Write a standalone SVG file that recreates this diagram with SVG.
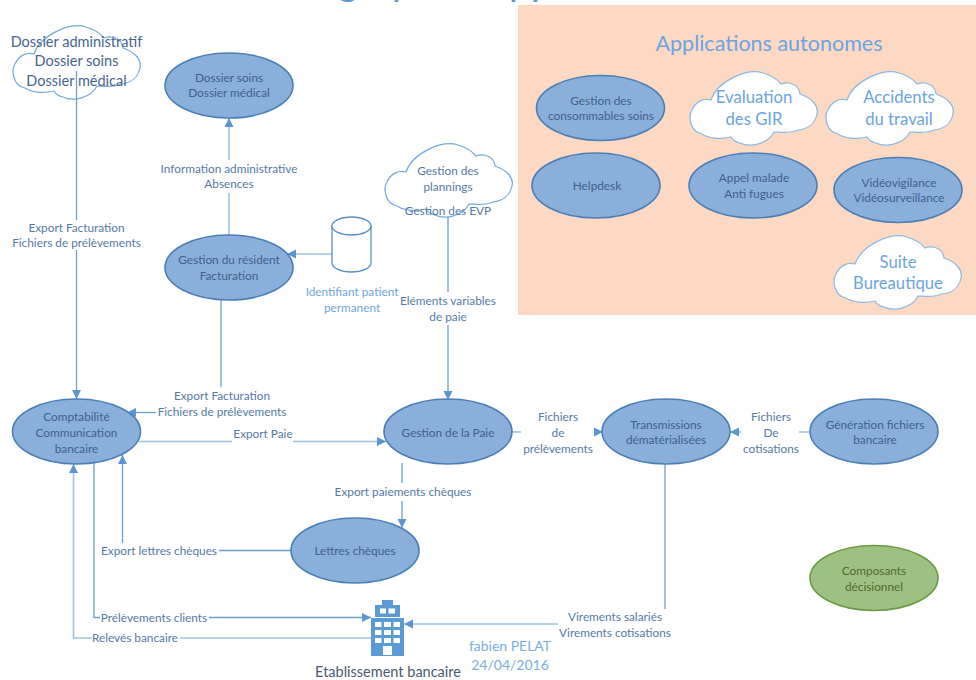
<svg xmlns="http://www.w3.org/2000/svg" width="976" height="680" viewBox="0 0 976 680">
<style>
text{font-family:"Lato","Open Sans","Liberation Sans",sans-serif;text-anchor:middle}
.n{fill:#8bafdb;stroke:#4a7fb5;stroke-width:1.6}
.g{fill:#9dc183;stroke:#6a9a43;stroke-width:1.6}
.t{font-size:11.8px;fill:#40608c}
.l{font-size:11.8px;fill:#557aa6}
.d{font-size:11.8px;fill:#4f6b2c}
.b{font-size:16.700px;fill:#6ba4e0}
.m{font-size:14.500px;fill:#47648f}
.a{font-size:14px;fill:#7aaee2}
.i{font-size:11.800px;fill:#6ea6de}
.cl{fill:#fff;stroke:#8db8e2;stroke-width:1.2}
.cb{fill:#fff;stroke:#76a9dc;stroke-width:1.2}
.cn{fill:none;stroke:#6a9fd3;stroke-width:1.3}
.lt{fill:none;stroke:#9dc3e6;stroke-width:1.6}
</style>
<defs>
<marker id="a" markerUnits="userSpaceOnUse" markerWidth="10" markerHeight="10" refX="9" refY="4.5" orient="auto"><path d="M0,0L9,4.5L0,9Z" fill="#5b96d2"/></marker>
<path id="cloud" d="M21,28C28,8 58,-4 73,1C80,3 86,6 91,12C100,9 109,13 110,22C122,26 129,34 127,42C125,52 117,57 108,58C100,62 90,60 84,60C78,72 60,76 50,71C45,70 42,67 41,65C30,68 18,66 12,62C0,60 -2,44 2,38C6,29 14,26 21,28Z"/>
</defs>
<rect width="976" height="680" fill="#fff"/>
<rect id="panel" x="518" y="5" width="458" height="310" fill="#fdd9c4"/>
<text x="769" y="51" font-size="21.500" fill="#6ba4e0">Applications autonomes</text>
<text font-size="40" fill="#5b9bd5" y="-5"><tspan x="348">g</tspan><tspan x="403">p</tspan><tspan x="520">p</tspan><tspan x="542">p</tspan></text>

<g id="clouds-base">
<use href="#cloud" x="13" y="26" class="cb"/>
<use href="#cloud" x="385" y="144" class="cb"/>
</g>

<g id="connectors">
<path class="cn" d="M76.500,71V220"/>
<path class="cn" marker-end="url(#a)" d="M76.500,250V399"/>
<path class="lt" d="M229,235V193"/>
<path class="lt" marker-end="url(#a)" d="M229,160V118"/>
<path class="lt" marker-end="url(#a)" d="M332,254H287"/>
<path class="cn" d="M221,300V387"/>
<path class="cn" marker-end="url(#a)" d="M156,412.500H127"/>
<path class="lt" d="M139,441.500H232"/>
<path class="lt" marker-end="url(#a)" d="M293,441.500H386"/>
<path class="cn" d="M292,550.500H219"/>
<path class="cn" marker-end="url(#a)" d="M122.500,543V455"/>
<path class="cn" d="M94,463V617.500H100"/>
<path class="cn" marker-end="url(#a)" d="M209,617.500H371"/>
<path class="lt" marker-end="url(#a)" d="M92,638H73.500V464"/>
<path class="lt" d="M180,638H371"/>
<path class="cn" d="M402,463V483"/>
<path class="cn" marker-end="url(#a)" d="M402,501V528"/>
<path class="lt" d="M512,432H521"/>
<path class="lt" marker-end="url(#a)" d="M594,432H603"/>
<path class="lt" d="M810,432H799"/>
<path class="lt" marker-end="url(#a)" d="M741,432H730"/>
<path class="cn" d="M665,464V609"/>
<path class="lt" marker-end="url(#a)" d="M558,624H404"/>
<path class="cn" d="M448,217V292"/>
<path class="cn" marker-end="url(#a)" d="M448,325V400"/>
</g>

<g id="dossier-cloud">
<text class="m" x="76.500" y="47">Dossier administratif</text>
<text class="m" x="76.500" y="66">Dossier soins</text>
<text class="m" x="76.500" y="86">Dossier médical</text>
</g>
<g id="plannings-cloud">
<text class="l" x="448" y="175">Gestion des</text>
<text class="l" x="448" y="191">plannings</text>
<text class="l" x="448" y="215">Gestion des EVP</text>
</g>

<g id="dossier-soins"><ellipse class="n" cx="229" cy="85.500" rx="64" ry="32.500"/>
<text class="t" x="229" y="82">Dossier soins</text><text class="t" x="229" y="97">Dossier médical</text></g>
<g id="gestion-residents"><ellipse class="n" cx="229" cy="267.500" rx="64" ry="32.500"/>
<text class="t" x="229" y="264">Gestion du résident</text><text class="t" x="229" y="280">Facturation</text></g>
<g id="comptabilite"><ellipse class="n" cx="76.500" cy="431.500" rx="64" ry="32.500"/>
<text class="t" x="76.500" y="421">Comptabilité</text><text class="t" x="76.500" y="437">Communication</text><text class="t" x="76.500" y="453">bancaire</text></g>
<g id="gestion-paie"><ellipse class="n" cx="448" cy="431.500" rx="64" ry="32.500"/>
<text class="t" x="448" y="437">Gestion de la Paie</text></g>
<g id="transmissions"><ellipse class="n" cx="666" cy="431.500" rx="64" ry="32.500"/>
<text class="t" x="666" y="429">Transmissions</text><text class="t" x="666" y="444">dématérialisées</text></g>
<g id="generation"><ellipse class="n" cx="874" cy="431.500" rx="64" ry="32.500"/>
<text class="t" x="875" y="429">Génération fichiers</text><text class="t" x="875" y="444">bancaire</text></g>
<g id="lettres"><ellipse class="n" cx="355" cy="550.500" rx="64" ry="32.500"/>
<text class="t" x="355" y="555">Lettres chèques</text></g>
<g id="composants"><ellipse class="g" cx="874" cy="578" rx="64" ry="32.500"/>
<text class="d" x="874" y="575">Composants</text><text class="d" x="874" y="591">décisionnel</text></g>
<g id="consommables"><ellipse class="n" cx="600.500" cy="108" rx="64" ry="32.500"/>
<text class="t" x="601" y="105">Gestion des</text><text class="t" x="601" y="120">consommables soins</text></g>
<g id="helpdesk"><ellipse class="n" cx="596" cy="185.500" rx="64" ry="32.500"/>
<text class="t" x="597" y="190">Helpdesk</text></g>
<g id="appel"><ellipse class="n" cx="753" cy="185.500" rx="64" ry="32.500"/>
<text class="t" x="754" y="182">Appel malade</text><text class="t" x="754" y="198">Anti fugues</text></g>
<g id="video"><ellipse class="n" cx="898" cy="190" rx="64" ry="32.500"/>
<text class="t" x="899" y="187">Vidéovigilance</text><text class="t" x="899" y="202">Vidéosurveillance</text></g>

<g id="evaluation"><use href="#cloud" x="690" y="72" class="cl"/>
<text class="b" x="754" y="103">Evaluation</text><text class="b" x="754" y="125">des GIR</text></g>
<g id="accidents"><use href="#cloud" x="826" y="72" class="cl"/>
<text class="b" x="899" y="103">Accidents</text><text class="b" x="899" y="125">du travail</text></g>
<g id="suite"><use href="#cloud" x="834" y="236" class="cl"/>
<text class="b" x="898" y="268">Suite</text><text class="b" x="898" y="289">Bureautique</text></g>

<g id="base-donnees">
<path d="M332,226V263C332,268 341,272 351.500,272C362,272 371,268 371,263V226Z" fill="#fff" stroke="#5a8fc5" stroke-width="1.3"/>
<ellipse cx="351.500" cy="226" rx="19.500" ry="9" fill="#fff" stroke="#5a8fc5" stroke-width="1.3"/>
<text class="i" x="352" y="296">Identifiant patient</text>
<text class="i" x="352" y="312">permanent</text>
</g>

<g id="labels">
<text class="l" x="76.500" y="232">Export Facturation</text><text class="l" x="76.500" y="247">Fichiers de prélèvements</text>
<text class="l" x="229" y="173">Information administrative</text><text class="l" x="229" y="188">Absences</text>
<text class="l" x="222" y="400">Export Facturation</text><text class="l" x="222" y="416">Fichiers de prélèvements</text>
<text class="l" x="263" y="438">Export Paie</text>
<text class="l" x="403" y="496">Export paiements chèques</text>
<text class="l" x="558" y="421">Fichiers</text><text class="l" x="558" y="437">de</text><text class="l" x="558" y="453">prélèvements</text>
<text class="l" x="771" y="421">Fichiers</text><text class="l" x="771" y="437">De</text><text class="l" x="771" y="453">cotisations</text>
<text class="l" x="159" y="555">Export lettres chèques</text>
<text class="l" x="154" y="622">Prélèvements clients</text>
<text class="l" x="135" y="642">Relevés bancaire</text>
<text class="l" x="615" y="621">Virements salariés</text><text class="l" x="615" y="637">Virements cotisations</text>
<text class="l" x="448" y="305">Eléments variables</text><text class="l" x="448" y="321">de paie</text>
</g>

<g id="etablissement">
<path fill="#5b9bd5" d="M371,618H404V656H371ZM375,605H400V617H375ZM382,600H393V605H382Z"/>
<path fill="#fff" d="M380,608.500H386V613.500H380ZM388.500,608.500H395V613.500H388.500ZM375,622H381.500V627H375ZM384,622H391V627H384ZM393.500,622H400V627H393.500ZM375,630H381.500V635H375ZM384,630H391V635H384ZM393.500,630H400V635H393.500ZM375,638H381.500V643H375ZM384,638H391V643H384ZM393.500,638H400V643H393.500ZM383,646H392V655H383Z"/>
<text x="388" y="677" style="font-size:14.500px;fill:#4a5a70">Etablissement bancaire</text>
</g>
<g id="auteur">
<text class="a" x="510" y="651">fabien PELAT</text>
<text class="a" x="510" y="670">24/04/2016</text>
</g>
</svg>
